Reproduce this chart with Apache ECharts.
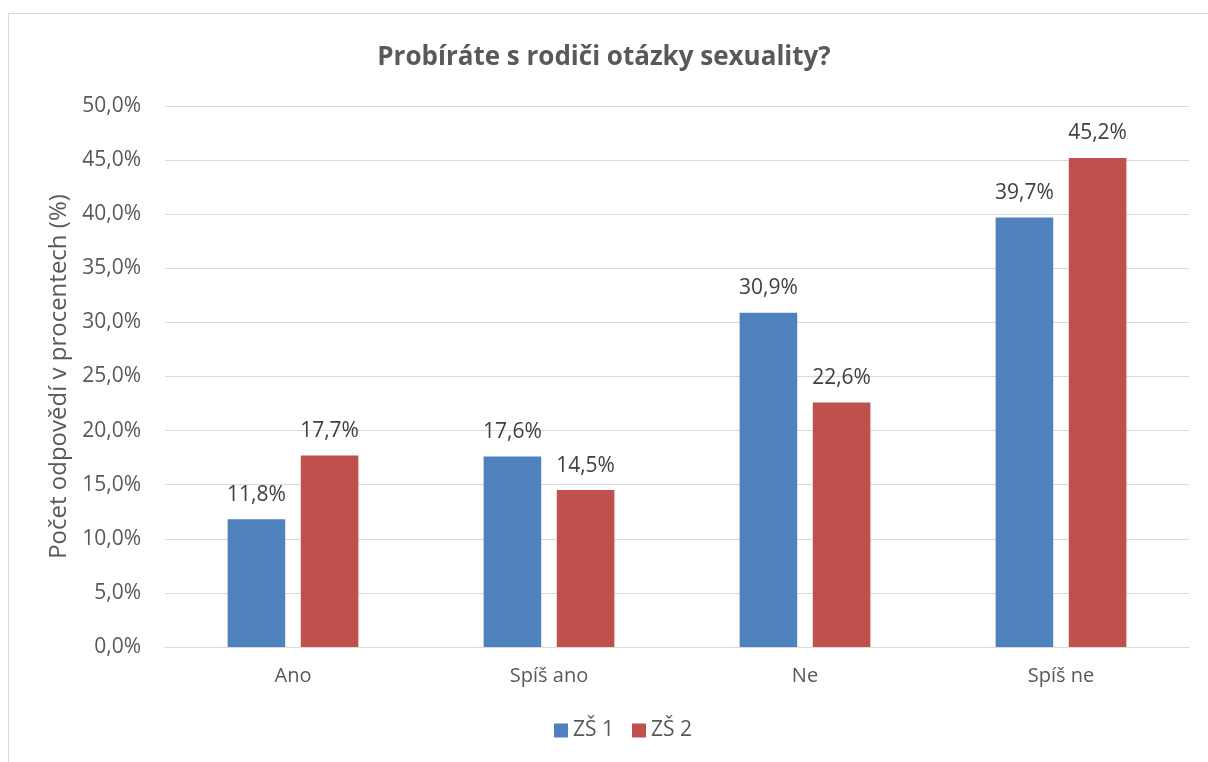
<!DOCTYPE html>
<html style="height: 100%" lang="cs">
<head>
    <meta charset="utf-8">
    <script type="text/javascript" src="https://cdn.jsdelivr.net/npm/echarts@6/dist/echarts.min.js"></script>
</head>
<body style="height: 100%; margin: 0; background: #fff">
<div id="frame" style="position:absolute; left:8px; top:13px; right:-10px; bottom:-10px; border:1px solid #d9d9d9"></div>
<div id="container" style="position:absolute; left:0; top:0; width:1208px; height:762px"></div>
<script type="text/javascript">
    // data
    var categories = ['Ano', 'Spíš ano', 'Ne', 'Spíš ne'];
    var zs1 = [11.8, 17.6, 30.9, 39.7];
    var zs2 = [17.7, 14.5, 22.6, 45.2];
    var seriesNames = ['ZŠ 1', 'ZŠ 2'];

    var fontName = 'Open Sans';
    var textColor = '#595959';

    function pct(v) {
        return v.toFixed(1).replace('.', ',') + '%';
    }

    var myChart = echarts.init(document.getElementById('container'));
    var option = {
        animation: false,
        textStyle: {fontFamily: fontName, color: textColor},
        title: {
            text: 'Probíráte s rodiči otázky sexuality?',
            left: 'center',
            top: 40,
            textStyle: {fontFamily: fontName, fontSize: 26, fontWeight: 'bold', color: textColor}
        },
        legend: {
            data: seriesNames,
            bottom: 16,
            left: 549,
            itemWidth: 14,
            itemHeight: 14,
            itemGap: 18,
            icon: 'rect',
            textStyle: {fontFamily: fontName, fontSize: 21, color: textColor}
        },
        grid: {left: 165, right: 19, top: 106, bottom: 115},
        xAxis: {
            type: 'category',
            data: categories,
            axisTick: {show: false},
            axisLine: {lineStyle: {color: '#d9d9d9', width: 1}},
            axisLabel: {fontFamily: fontName, fontSize: 20, color: textColor, margin: 19}
        },
        yAxis: {
            type: 'value',
            min: 0,
            max: 50,
            interval: 5,
            name: 'Počet odpovědí v procentech (%)',
            nameLocation: 'middle',
            nameGap: 92,
            nameTextStyle: {fontFamily: fontName, fontSize: 24, color: textColor},
            axisLine: {show: false},
            axisTick: {show: false},
            splitLine: {lineStyle: {color: '#d9d9d9', width: 1}},
            axisLabel: {
                fontFamily: fontName, fontSize: 21, color: textColor, margin: 24,
                formatter: function (v) { return pct(v); }
            }
        },
        series: [
            {
                name: seriesNames[0],
                type: 'bar',
                data: zs1,
                barWidth: '22.5%',
                barGap: '27%',
                itemStyle: {color: '#4f81bd'},
                label: {
                    show: true, position: 'top', distance: 14,
                    fontFamily: fontName, fontSize: 21, color: '#404040',
                    formatter: function (p) { return pct(p.value); }
                }
            },
            {
                name: seriesNames[1],
                type: 'bar',
                data: zs2,
                barWidth: '22.5%',
                barGap: '27%',
                itemStyle: {color: '#c0504d'},
                label: {
                    show: true, position: 'top', distance: 14,
                    fontFamily: fontName, fontSize: 21, color: '#404040',
                    formatter: function (p) { return pct(p.value); }
                }
            }
        ]
    };
    myChart.setOption(option);
</script>
</body>
</html>
